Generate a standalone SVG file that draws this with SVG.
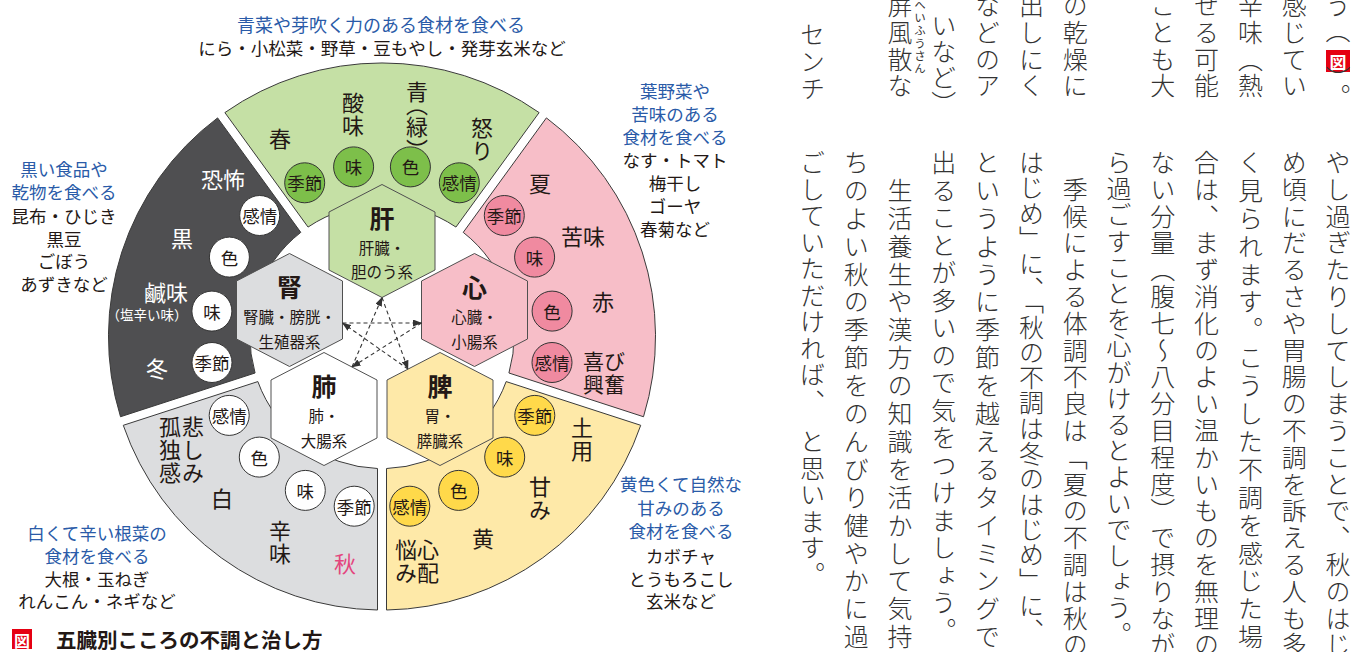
<svg xmlns="http://www.w3.org/2000/svg" width="1369" height="652" viewBox="0 0 1369 652">
<style>
text{font-family:"Noto Sans CJK JP","Noto Sans CJK SC",sans-serif;fill:#231815}
.sec{stroke:#3a3a3a;stroke-width:1}
.hex{stroke:#505050;stroke-width:1}
.c{stroke:#333;stroke-width:1}
.lbl{font-size:22px;text-anchor:middle;dominant-baseline:central}
.vl{font-size:22px;writing-mode:vertical-rl;letter-spacing:1px}
.ct{font-size:17.5px;text-anchor:middle;dominant-baseline:central}
.food{font-size:17.5px;text-anchor:middle;dominant-baseline:central}
.blue{fill:#2a5ba8}
.hk{font-size:25px;font-weight:bold;text-anchor:middle;dominant-baseline:central}
.hs{font-size:15.5px;text-anchor:middle;dominant-baseline:central}
.body{font-size:25px;font-weight:300;writing-mode:vertical-rl;fill:#333}
.w{fill:#fff}
.gc{fill:#7dbf4a}
.pc{fill:#f08aa0}
.yc{fill:#ffd94a}
.wc{fill:#fff}
</style>
<defs>
<marker id="ah" markerWidth="9" markerHeight="7" refX="8.5" refY="3.5" orient="auto" markerUnits="userSpaceOnUse"><path d="M0,0 L9,3.5 L0,7 z" fill="#333"/></marker>
</defs>

<!-- sectors -->
<g id="sector-wood">
<path class="sec" fill="#c5e0a5" d="M224.88,112.59 A273.5,273.5 0 0 1 539.12,112.59 L455.95,227.07 A132,132 0 0 0 308.05,227.07 Z"/>
<text class="lbl" x="280" y="137">春</text>
<text class="vl" x="353" y="92">酸味</text>
<text class="vl" x="417" y="81" style="font-feature-settings:'vpal'">青（緑）</text>
<text class="vl" x="482" y="117">怒り</text>
<circle class="c gc" cx="304.7" cy="182.8" r="20"/><text class="ct" x="304.7" y="182.8">季節</text>
<circle class="c gc" cx="353.6" cy="166.9" r="20"/><text class="ct" x="353.6" y="166.9">味</text>
<circle class="c gc" cx="410.4" cy="166.9" r="20"/><text class="ct" x="410.4" y="166.9">色</text>
<circle class="c gc" cx="459.3" cy="182.8" r="20"/><text class="ct" x="459.3" y="182.8">感情</text>
</g>
<g id="sector-fire">
<path class="sec" fill="#f7bec8" d="M546.40,117.88 A273.5,273.5 0 0 1 643.50,416.74 L508.93,373.01 A132,132 0 0 0 463.23,232.36 Z"/>
<text class="lbl" x="540" y="182">夏</text>
<text class="lbl" x="583" y="235">苦味</text>
<text class="lbl" x="603" y="300">赤</text>
<text class="lbl" x="604" y="360" style="font-size:21px">喜び</text>
<text class="lbl" x="604" y="383" style="font-size:21px">興奮</text>
<circle class="c pc" cx="504.3" cy="215.5" r="20"/><text class="ct" x="504.3" y="215.5">季節</text>
<circle class="c pc" cx="534.6" cy="257.1" r="20"/><text class="ct" x="534.6" y="257.1">味</text>
<circle class="c pc" cx="552.1" cy="311.1" r="20"/><text class="ct" x="552.1" y="311.1">色</text>
<circle class="c pc" cx="552" cy="362.5" r="20"/><text class="ct" x="552" y="362.5">感情</text>
</g>
<g id="sector-earth">
<path class="sec" fill="#fee9a8" d="M640.72,425.30 A273.5,273.5 0 0 1 386.5,610 L386.5,468.5 A132,132 0 0 0 506.15,381.57 Z"/>
<text class="vl" x="582" y="417">土用</text>
<text class="vl" x="540" y="476">甘み</text>
<text class="lbl" x="483" y="537">黄</text>
<text class="vl" x="428" y="539">心配</text>
<text class="vl" x="406" y="539">悩み</text>
<circle class="c yc" cx="534.8" cy="415.4" r="20"/><text class="ct" x="534.8" y="415.4">季節</text>
<circle class="c yc" cx="504.7" cy="457.1" r="20"/><text class="ct" x="504.7" y="457.1">味</text>
<circle class="c yc" cx="458.7" cy="490.4" r="20"/><text class="ct" x="458.7" y="490.4">色</text>
<circle class="c yc" cx="409.8" cy="506.2" r="20"/><text class="ct" x="409.8" y="506.2">感情</text>
</g>
<g id="sector-metal">
<path class="sec" fill="#dcdddf" d="M377.5,610 A273.5,273.5 0 0 1 123.28,425.30 L257.85,381.57 A132,132 0 0 0 377.5,468.5 Z"/>
<text class="vl" x="193" y="416">悲しみ</text>
<text class="vl" x="170" y="416">孤独感</text>
<text class="lbl" x="222" y="497">白</text>
<text class="vl" x="280" y="520">辛味</text>
<text class="lbl" x="345" y="562" style="fill:#e4467e">秋</text>
<circle class="c wc" cx="354.2" cy="506.2" r="20"/><text class="ct" x="354.2" y="506.2">季節</text>
<circle class="c wc" cx="305.3" cy="490.4" r="20"/><text class="ct" x="305.3" y="490.4">味</text>
<circle class="c wc" cx="259.3" cy="457.1" r="20"/><text class="ct" x="259.3" y="457.1">色</text>
<circle class="c wc" cx="229.2" cy="415.4" r="20"/><text class="ct" x="229.2" y="415.4">感情</text>
</g>
<g id="sector-water">
<path class="sec" fill="#4f4f51" d="M120.50,416.74 A273.5,273.5 0 0 1 217.60,117.88 L300.77,232.36 A132,132 0 0 0 255.07,373.01 Z"/>
<text class="lbl w" x="223" y="178">恐怖</text>
<text class="lbl w" x="182" y="237">黒</text>
<text class="lbl w" x="166" y="291">鹹味</text>
<text class="w" x="147" y="314" style="font-size:13.5px;text-anchor:middle;dominant-baseline:central">（塩辛い味）</text>
<text class="lbl w" x="157" y="367">冬</text>
<circle class="c wc" cx="212" cy="362.5" r="20"/><text class="ct" x="212" y="362.5">季節</text>
<circle class="c wc" cx="211.9" cy="311.1" r="20"/><text class="ct" x="211.9" y="311.1">味</text>
<circle class="c wc" cx="229.4" cy="257.1" r="20"/><text class="ct" x="229.4" y="257.1">色</text>
<circle class="c wc" cx="259.7" cy="215.5" r="20"/><text class="ct" x="259.7" y="215.5">感情</text>
</g>

<!-- hexagon nodes -->
<g id="liver">
<polygon class="hex" fill="#c5e0a5" points="382,184.5 435,212 435,270 382,297.5 329,270 329,212"/>
<text class="hk" x="382" y="217">肝</text>
<text class="hs" x="382" y="247">肝臓・</text>
<text class="hs" x="382" y="271">胆のう系</text>
</g>
<g id="heart">
<polygon class="hex" fill="#f7bec8" points="474.5,253.5 527.5,281 527.5,339 474.5,366.5 421.5,339 421.5,281"/>
<text class="hk" x="474.5" y="286">心</text>
<text class="hs" x="474.5" y="316">心臓・</text>
<text class="hs" x="474.5" y="341">小腸系</text>
</g>
<g id="spleen">
<polygon class="hex" fill="#fee9a8" points="440,352.5 493,380 493,438 440,465.5 387,438 387,380"/>
<text class="hk" x="440" y="385">脾</text>
<text class="hs" x="440" y="415">胃・</text>
<text class="hs" x="440" y="440">膵臓系</text>
</g>
<g id="lung">
<polygon class="hex" fill="#ffffff" points="324,352.5 377,380 377,438 324,465.5 271,438 271,380"/>
<text class="hk" x="324" y="385">肺</text>
<text class="hs" x="324" y="415">肺・</text>
<text class="hs" x="324" y="440">大腸系</text>
</g>
<g id="kidney">
<polygon class="hex" fill="#dcdddf" points="289.5,253.5 342.5,281 342.5,339 289.5,366.5 236.5,339 236.5,281"/>
<text class="hk" x="289.5" y="286">腎</text>
<text class="hs" x="289.5" y="316">腎臓・膀胱・</text>
<text class="hs" x="289.5" y="341">生殖器系</text>
</g>

<g id="connectors" stroke="#333" stroke-width="1.1" stroke-dasharray="4 3" fill="none">
<line x1="382" y1="297.5" x2="408" y2="369" marker-end="url(#ah)"/>
<line x1="352" y1="367" x2="382" y2="297.5" marker-end="url(#ah)"/>
<line x1="342.5" y1="323" x2="421.5" y2="323" marker-end="url(#ah)"/>
<line x1="421.5" y1="323" x2="352" y2="367" marker-end="url(#ah)"/>
<line x1="408" y1="369" x2="342.5" y2="323" marker-end="url(#ah)"/>
</g>

<!-- food notes -->
<g id="food-wood">
<text class="food blue" x="381" y="24" style="font-size:18px">青菜や芽吹く力のある食材を食べる</text>
<text class="food" x="382" y="47">にら・小松菜・野草・豆もやし・発芽玄米など</text>
</g>
<g id="food-fire">
<text class="food blue" x="675" y="90">葉野菜や</text>
<text class="food blue" x="675" y="113">苦味のある</text>
<text class="food blue" x="675" y="136.5">食材を食べる</text>
<text class="food" x="675" y="159.5">なす・トマト</text>
<text class="food" x="675" y="182.5">梅干し</text>
<text class="food" x="675" y="205.5">ゴーヤ</text>
<text class="food" x="675" y="228.5">春菊など</text>
</g>
<g id="food-water">
<text class="food blue" x="64" y="168">黒い食品や</text>
<text class="food blue" x="64" y="191.5">乾物を食べる</text>
<text class="food" x="64" y="215">昆布・ひじき</text>
<text class="food" x="64" y="238">黒豆</text>
<text class="food" x="64" y="260.5">ごぼう</text>
<text class="food" x="64" y="283">あずきなど</text>
</g>
<g id="food-metal">
<text class="food blue" x="97" y="532">白くて辛い根菜の</text>
<text class="food blue" x="97" y="555">食材を食べる</text>
<text class="food" x="97" y="578">大根・玉ねぎ</text>
<text class="food" x="97" y="600.5">れんこん・ネギなど</text>
</g>
<g id="food-earth">
<text class="food blue" x="681" y="483">黄色くて自然な</text>
<text class="food blue" x="681" y="507">甘みのある</text>
<text class="food blue" x="681" y="530">食材を食べる</text>
<text class="food" x="681" y="555">カボチャ</text>
<text class="food" x="681" y="578">とうもろこし</text>
<text class="food" x="681" y="600.5">玄米など</text>
</g>

<g id="caption">
<rect x="12" y="629" width="20" height="20" fill="#e50012"/>
<text x="22" y="639.5" style="font-size:16px;font-weight:bold;fill:#fff;text-anchor:middle;dominant-baseline:central">図</text>
<text x="56" y="639" style="font-size:20.5px;font-weight:bold;dominant-baseline:central">五臓別こころの不調と治し方</text>
</g>

<!-- vertical body text -->
<g id="body-top">
<text class="body" x="1338" y="-7">う（</text>
<rect x="1326" y="50" width="24" height="22" fill="#e50012"/>
<text x="1338" y="61.5" style="font-size:17px;font-weight:bold;fill:#fff;text-anchor:middle;dominant-baseline:central">図</text>
<text class="body" x="1338" y="66">）</text>
<text class="body" x="1338" y="84">。</text>
<text class="body" x="1294.2" y="-7" style="letter-spacing:1.8px">感じてい</text>
<text class="body" x="1250.4" y="-7" style="letter-spacing:1.8px">辛味（熱</text>
<text class="body" x="1206.6" y="-7" style="letter-spacing:1.8px">せる可能</text>
<text class="body" x="1162.8" y="-7" style="letter-spacing:1.8px">ことも大</text>
<text class="body" x="1075.2" y="-7" style="letter-spacing:1.8px">の乾燥に</text>
<text class="body" x="1031.4" y="-7" style="letter-spacing:1.8px">出しにく</text>
<text class="body" x="987.6" y="-7" style="letter-spacing:1.8px">などのア</text>
<text class="body" x="943.8" y="13" style="letter-spacing:1px">いなど）</text>
<text class="body" x="900" y="-7" style="letter-spacing:1.8px">屏風散な</text>
<text x="920" y="-1" style="font-size:11.5px;writing-mode:vertical-rl;letter-spacing:1.3px;fill:#333">へいふうさん</text>
<text class="body" x="812.4" y="22" style="letter-spacing:1.8px">センチ</text>
</g>
<g id="body-bottom">
<text class="body" x="1338" y="150" style="letter-spacing:1.8px">やし過ぎたりしてしまうことで、秋のはじ</text>
<text class="body" x="1294.2" y="150" style="letter-spacing:1.8px">め頃にだるさや胃腸の不調を訴える人も多</text>
<text class="body" x="1250.4" y="150" style="letter-spacing:2.9px">く見られます。こうした不調を感じた場</text>
<text class="body" x="1206.6" y="150" style="letter-spacing:1.8px">合は、まず消化のよい温かいものを無理の</text>
<text class="body" x="1162.8" y="150" style="letter-spacing:1.8px">ない分量（腹七〜八分目程度）で摂りなが</text>
<text class="body" x="1119" y="150" style="letter-spacing:1.2px">ら過ごすことを心がけるとよいでしょう。</text>
<text class="body" x="1075.2" y="150" style="letter-spacing:1.8px">　季候による体調不良は「夏の不調は秋の</text>
<text class="body" x="1031.4" y="150" style="letter-spacing:0.3px">はじめ」に、「秋の不調は冬のはじめ」に、</text>
<text class="body" x="987.6" y="150" style="letter-spacing:2.9px">というように季節を越えるタイミングで</text>
<text class="body" x="943.8" y="150" style="letter-spacing:2.5px">出ることが多いので気をつけましょう。</text>
<text class="body" x="900" y="150" style="letter-spacing:2.9px">　生活養生や漢方の知識を活かして気持</text>
<text class="body" x="856.2" y="150" style="letter-spacing:2.9px">ちのよい秋の季節をのんびり健やかに過</text>
<text class="body" x="812.4" y="150" style="letter-spacing:1.5px">ごしていただければ、　と思います。</text>
</g>
</svg>
